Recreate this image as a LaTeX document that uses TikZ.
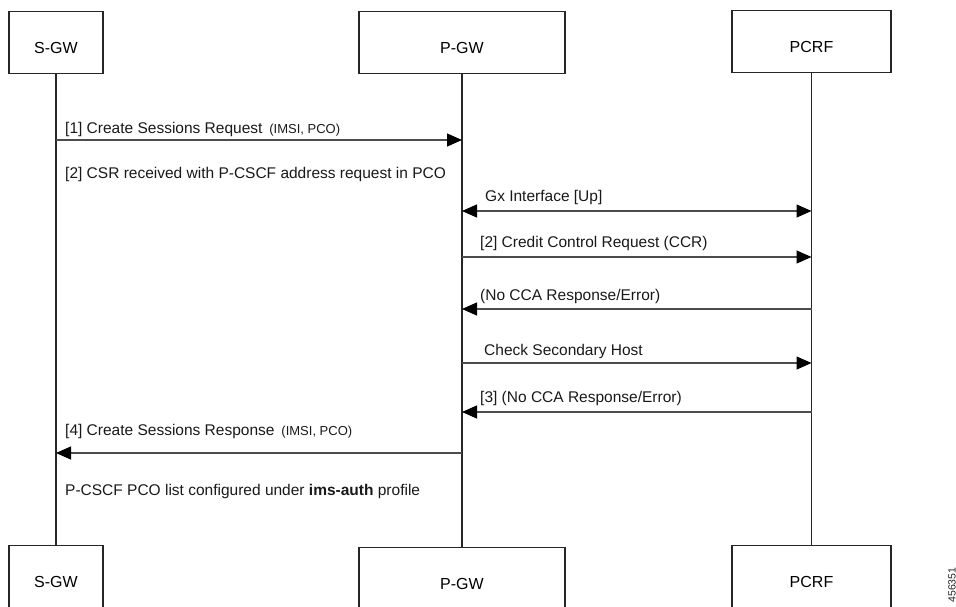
\documentclass[tikz,border=0pt]{standalone}
\usepackage{fontspec}
\setmainfont{Liberation Sans}
\usetikzlibrary{arrows.meta,positioning}

\begin{document}
\begin{tikzpicture}[x=1pt, y=-1pt,
  entity/.style={draw=black!85, line width=1.3pt, minimum height=62pt, anchor=north,
    inner sep=0pt, text height=21pt, text depth=0pt, font=\fontsize{16}{19}\selectfont},
  life/.style={line width=1.3pt, black!85},
  msg/.style={line width=1.2pt, black!70, -{Triangle[length=15pt,width=13pt,black]}},
  dmsg/.style={line width=1.2pt, black!70, {Triangle[length=15pt,width=13pt,black]}-{Triangle[length=15pt,width=13pt,black]}},
  lbl/.style={anchor=base west, inner sep=0pt, text=black!90, font=\fontsize{15.5}{18}\selectfont},
  args/.style={font=\fontsize{13}{15}\selectfont}]
  \useasboundingbox (0,0) rectangle (956,606);
  \node [entity, minimum width=94pt] (sgwtop) at (56,11) {S-GW};
  \node [entity, minimum width=206pt] (pgwtop) at (462,11) {P-GW};
  \node [entity, minimum width=159pt] (pcrftop) at (811.5,10) {PCRF};
  \node [entity, minimum width=94pt] (sgwbot) at (56,545) {S-GW};
  \node [entity, minimum width=206pt] (pgwbot) at (462,547) {P-GW};
  \node [entity, minimum width=159pt] (pcrfbot) at (811.5,545) {PCRF};
  \draw [life] (sgwtop) -- (sgwbot);
  \draw [life] (pgwtop) -- (pgwbot);
  \draw [life] (pcrftop) -- (pcrfbot);
  \draw [msg] (sgwtop.south |- 0,140) -- (pgwtop.south |- 0,140);
  \node [lbl] (csreq) at (65,133) {[1] Create Sessions Request \,{\fontsize{13}{15}\selectfont(IMSI, PCO)}};
  \node [lbl] (csrnote) at (65,178) {[2] CSR received with P-CSCF address request in PCO};
  \draw [dmsg] (pgwtop.south |- 0,211) -- (pcrftop.south |- 0,211);
  \node [lbl] (gxup) at (485,201) {Gx Interface [Up]};
  \draw [msg] (pgwtop.south |- 0,257) -- (pcrftop.south |- 0,257);
  \node [lbl] (ccr) at (480,247) {[2] Credit Control Request (CCR)};
  \draw [msg] (pcrftop.south |- 0,309) -- (pgwtop.south |- 0,309);
  \node [lbl] (nocca) at (480,300) {(No CCA Response/Error)};
  \draw [msg] (pgwtop.south |- 0,363) -- (pcrftop.south |- 0,363);
  \node [lbl] (sechost) at (484,355) {Check Secondary Host};
  \draw [msg] (pcrftop.south |- 0,412) -- (pgwtop.south |- 0,412);
  \node [lbl] (noccb) at (480,402) {[3] (No CCA Response/Error)};
  \draw [msg] (pgwtop.south |- 0,453) -- (sgwtop.south |- 0,453);
  \node [lbl] (csresp) at (65,435) {[4] Create Sessions Response \,{\fontsize{13}{15}\selectfont(IMSI, PCO)}};
  \node [lbl] (pcolist) at (65,495) {P-CSCF PCO list configured under \textbf{ims-auth} profile};
  \node [rotate=90, inner sep=0pt, text=black!85, font=\fontsize{10.5}{12}\selectfont] (figid) at (952,585) {456351};
\end{tikzpicture}
\end{document}
